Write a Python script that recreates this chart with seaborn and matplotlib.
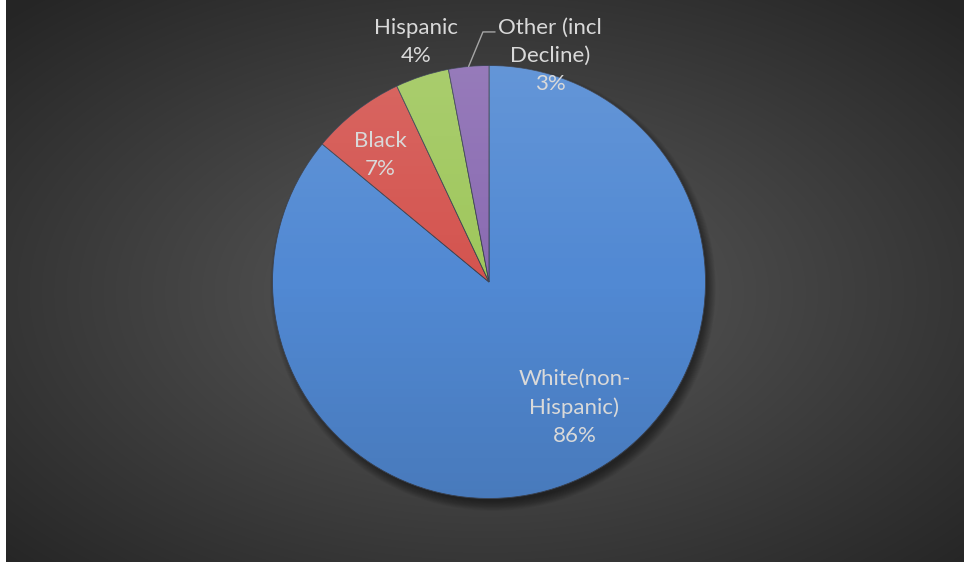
import numpy as np
import matplotlib
matplotlib.use("Agg")
import matplotlib.pyplot as plt
import seaborn as sns
from matplotlib.patches import Circle

# Share of respondents by race / ethnicity
categories = ["White(non-\nHispanic)", "Black", "Hispanic", "Other (incl\nDecline)"]
shares = [86, 7, 4, 3]
colors = ["#5189d3", "#d4544f", "#9fc75c", "#8a6bb2"]

# label placement (radius, angle in degrees) in pie units
label_pos = [(0.70, -55.7), (0.77, 130.6), (1.16, 106.9), (1.08, 74.9)]

sns.set_style("white")
plt.rcParams["font.family"] = ["Lato", "DejaVu Sans"]

W, H = 964, 562
fig = plt.figure(figsize=(W / 100, H / 100), dpi=100, facecolor="white")

# dark radial-gradient backdrop
bg = fig.add_axes([6 / W, 0, 1 - 6 / W, 1])
bw = W - 6
yy, xx = np.mgrid[0:H, 0:bw]
cx, cy = bw * 0.5, H * 0.52
d = np.sqrt(((xx - cx) / (bw * 0.5)) ** 2 + ((yy - cy) / (H * 0.5)) ** 2) / np.sqrt(2)
d = np.clip(d, 0, 1)
inner = np.array([0x5c, 0x5c, 0x5c]) / 255
outer = np.array([0x25, 0x25, 0x25]) / 255
img = inner[None, None, :] * (1 - d[..., None]) + outer[None, None, :] * d[..., None]
bg.imshow(img, aspect="auto", extent=(0, 1, 0, 1), interpolation="bilinear")
bg.set_axis_off()

# pie axes
R = 216.5
ax = fig.add_axes([(489 - R) / W, (280 - R) / H, 2 * R / W, 2 * R / H])
ax.set_facecolor("none")

# soft drop shadow towards the lower right
for k in range(12):
    ax.add_patch(Circle((0.018, -0.028), 0.985 + 0.004 * k, color="black",
                        alpha=0.045, zorder=0, clip_on=False, lw=0))

wedges, _ = ax.pie(shares, colors=colors, startangle=90, counterclock=False,
                   radius=1, wedgeprops=dict(edgecolor="#3b4250", linewidth=0.6))
for w in wedges:
    w.set_zorder(2)

# gentle top-to-bottom shading across the pie
gy = np.linspace(1, 0, 200)[:, None] * np.ones((1, 200))
shade = np.zeros((200, 200, 4))
shade[..., :3] = np.where(gy[..., None] > 0.5, 1.0, 0.0)
shade[..., 3] = np.abs(gy - 0.5) * 0.22
im = ax.imshow(shade, extent=(-1, 1, -1, 1), zorder=3, interpolation="bilinear")
im.set_clip_path(Circle((0, 0), 1.0, transform=ax.transData))

ax.set_xlim(-1, 1)
ax.set_ylim(-1, 1)
ax.set_axis_off()

# data labels
for cat, val, (r, a) in zip(categories, shares, label_pos):
    t = np.deg2rad(a)
    ax.text(r * np.cos(t), r * np.sin(t), f"{cat}\n{val}%", ha="center", va="center",
            color="#d9d9d9", fontsize=16, linespacing=1.5, zorder=5, clip_on=False)

# leader line for the smallest slice
w = wedges[-1]
mid = np.deg2rad((w.theta1 + w.theta2) / 2)
ex, ey = np.cos(mid), np.sin(mid)
ax.plot([0.028, -0.028, ex], [1.155, 1.155, ey], color="#a6a6a6", lw=1.0,
        zorder=5, clip_on=False)

fig.savefig("out.png", dpi=100, facecolor="white")
